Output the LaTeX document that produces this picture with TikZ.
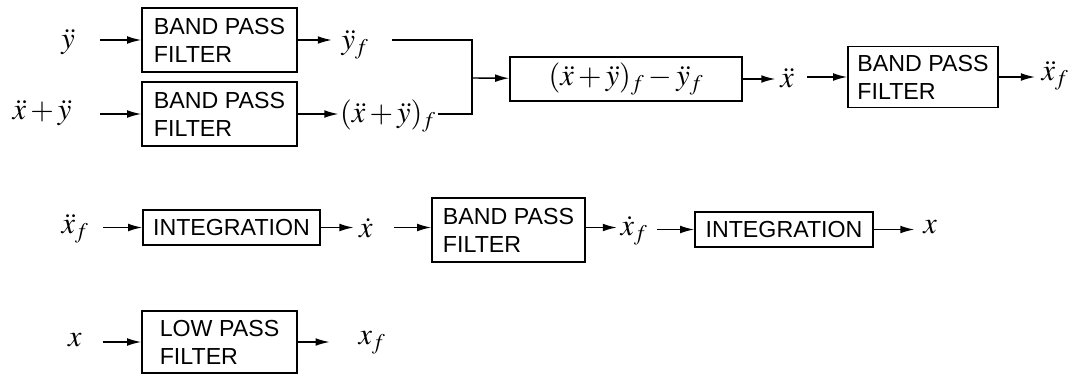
\documentclass[tikz,border=0pt]{standalone}
\usepackage{mathptmx}
\usepackage[no-math]{fontspec}
\setsansfont{Liberation Sans}
\usetikzlibrary{arrows.meta, positioning, calc}

\newcommand\boxfont{\sffamily\fontsize{16.5}{20}\selectfont}
\newcommand\labfont{\fontsize{21.5}{25}\selectfont}

\begin{document}
\begin{tikzpicture}[
    x=0.025cm, y=-0.025cm,
    box/.style={draw, line width=1.1pt, align=left, font=\boxfont, inner sep=2pt},
    filt/.style={box, minimum width=3.875cm, minimum height=1.6cm},
    integ/.style={box, minimum width=4.425cm, minimum height=0.875cm},
    lab/.style={font=\labfont, inner sep=1pt},
    arr/.style={-{Latex[length=10pt, width=5.5pt]}, line width=1pt},
    wire/.style={line width=1pt}
]
\useasboundingbox (0,0) rectangle (1076,376);

% Row 1: separating the two accelerations
\node[lab] (ydd) at (68, 42) {$\ddot y$};
\node[lab] (xpy) at (42, 113) {$\ddot x+\ddot y$};
\node[filt] (bp1) at (219.5, 40) {BAND PASS\\FILTER};
\node[filt] (bp2) at (219.5, 114) {BAND PASS\\FILTER};
\node[lab] (yf) at (355, 45) {$\ddot y_f$};
\node[lab] (xyf) at (388, 116) {$(\ddot x+\ddot y)_f$};
\coordinate (merge) at (472, 78);
\node[box, minimum width=5.8cm, minimum height=1.1cm, font=\labfont] (diff) at (626, 79) {$(\ddot x+\ddot y)_f-\ddot y_f$};
\node[lab] (xdd) at (787, 78) {$\ddot x$};
\node[filt, minimum width=3.75cm, minimum height=1.525cm] (bp3) at (923, 77) {BAND PASS\\FILTER};
\node[lab] (xf1) at (1055, 76) {$\ddot x_f$};

\draw[arr, shorten <=0.6cm] (ydd.east |- bp1) -- (bp1);
\draw[arr, shorten >=0.2cm] (bp1) -- (yf.west |- bp1);
\draw[arr, shorten <=0.68cm] (xpy.east |- bp2) -- (bp2);
\draw[arr] (bp2) -- (xyf.west |- bp2);
\draw[wire, shorten <=0.55cm] (yf.east |- bp1) -| (merge) |- (xyf.east |- bp2);
\draw[arr] (merge) -- (diff);
\draw[arr, shorten >=0.08cm] (diff) -- (xdd.west |- diff);
\draw[arr, shorten <=0.3cm] (xdd.east |- bp3) -- (bp3);
\draw[arr, shorten >=0.12cm] (bp3) -- (xf1.west |- bp3);

% Row 2: two integrations
\node[lab] (xf2) at (75, 229) {$\ddot x_f$};
\node[integ] (int1) at (231.5, 227.5) {INTEGRATION};
\node[lab] (xd) at (366, 228) {$\dot x$};
\node[filt, minimum width=3.825cm] (bp4) at (508.5, 230) {BAND PASS\\FILTER};
\node[lab] (xdf) at (634, 231) {$\dot x_f$};
\node[integ, minimum width=4.45cm] (int2) at (784, 229.5) {INTEGRATION};
\node[lab] (xout) at (930, 227) {$x$};

\draw[arr, shorten <=0.33cm] (xf2.east |- int1) -- (int1);
\draw[arr, shorten >=0.1cm] (int1) -- (xd.west |- int1);
\draw[arr, shorten <=0.5cm] (xd.east |- int1) -- (bp4.west |- int1);
\draw[arr, shorten >=0.05cm] (bp4.east |- int1) -- (xdf.west |- int1);
\draw[arr, shorten <=0.2cm] (xdf.east |- int2) -- (int2);
\draw[arr, shorten >=0.18cm] (int2) -- (xout.west |- int2);

% Row 3: low pass
\node[lab] (xin) at (75, 340) {$x$};
\node[filt, minimum height=1.55cm] (lp) at (219.5, 342) {LOW PASS\\FILTER};
\node[lab] (xlf) at (372, 343) {$x_f$};

\draw[arr, shorten <=0.48cm] (xin.east |- lp) -- (lp);
\draw[arr, shorten >=0.68cm] (lp) -- (xlf.west |- lp);

\end{tikzpicture}
\end{document}
